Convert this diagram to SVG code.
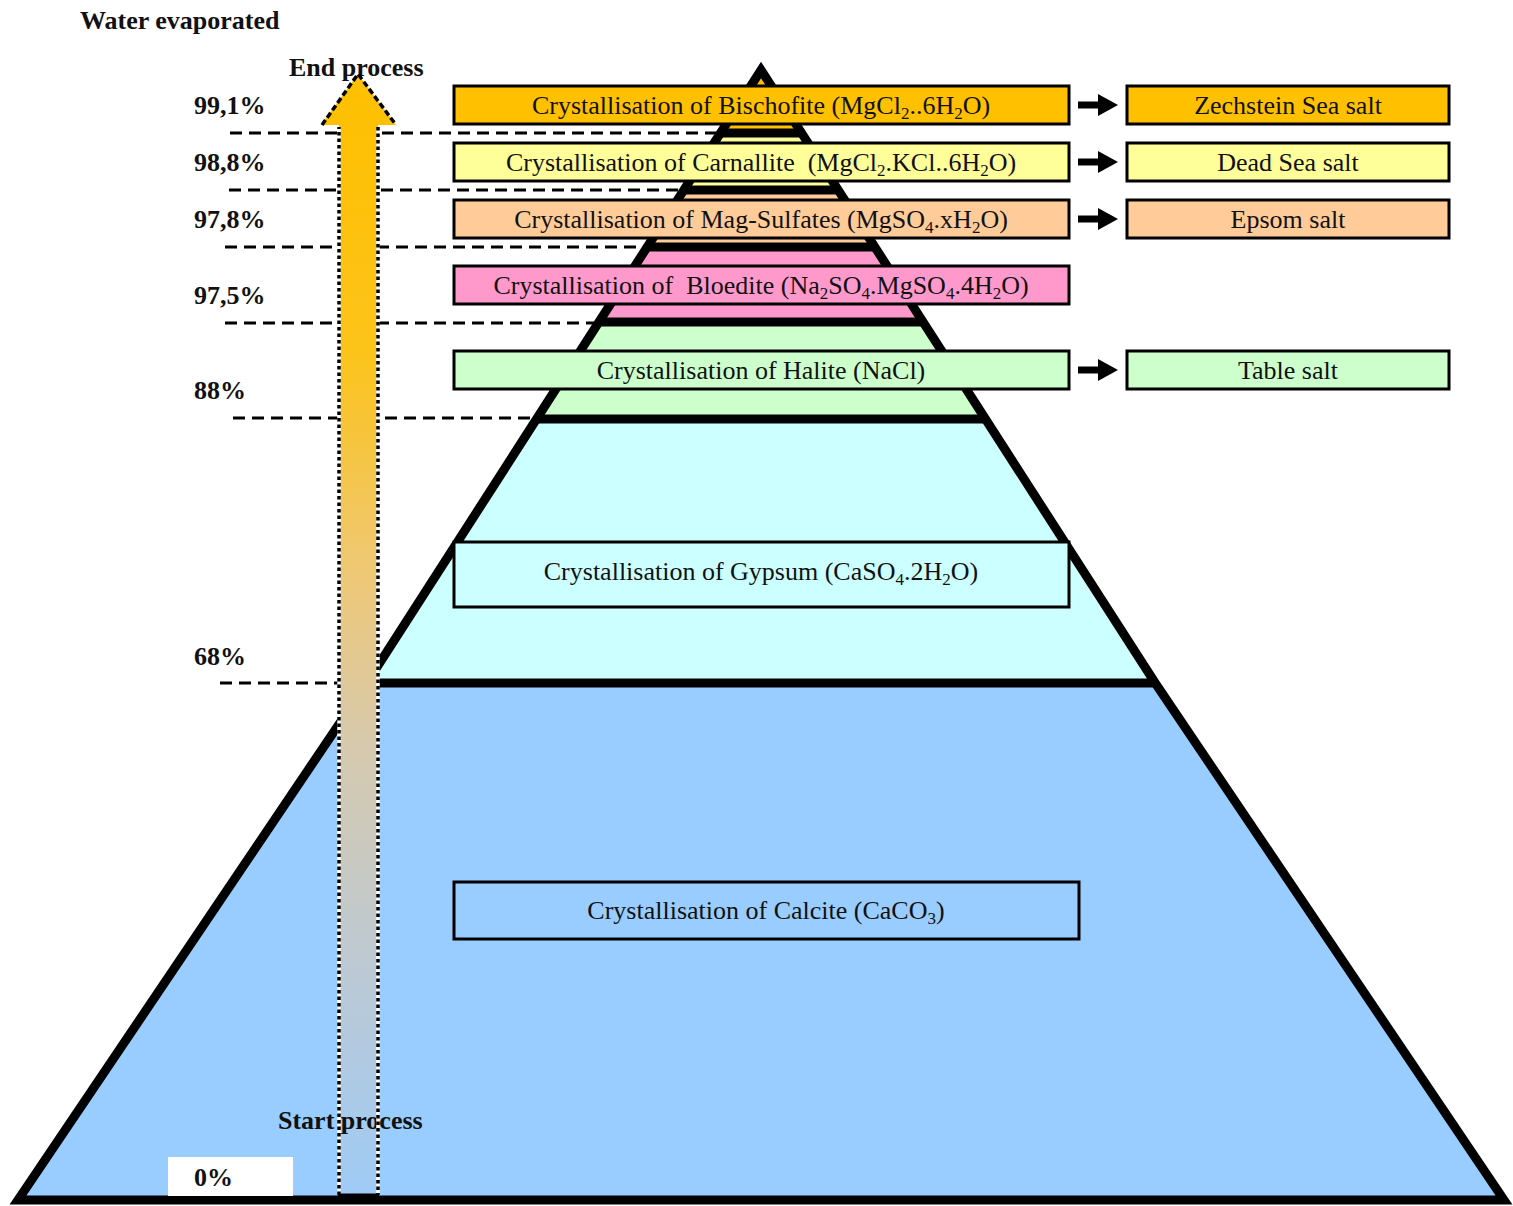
<svg xmlns="http://www.w3.org/2000/svg" width="1513" height="1206" viewBox="0 0 1513 1206">
<defs>
<style>
text{font-family:"Liberation Serif","Times New Roman",serif;font-size:26px;fill:#111;}
.b{font-weight:bold;}
.c{text-anchor:middle;}
.sub{font-size:17px;}
.box{stroke:#000;stroke-width:3;}
.dash{stroke:#000;stroke-width:3;stroke-dasharray:12 7;fill:none;}
.sep{stroke:#000;stroke-width:9;}
.conn{stroke:#000;stroke-width:7;fill:none;}
</style>
<linearGradient id="ag" x1="0" y1="0" x2="0" y2="1">
<stop offset="0" stop-color="#FFC000"/>
<stop offset="0.25" stop-color="#FCC31A"/>
<stop offset="0.45" stop-color="#EEC878"/>
<stop offset="0.6" stop-color="#D6C9AE"/>
<stop offset="0.8" stop-color="#BCC9D4"/>
<stop offset="1" stop-color="#9FCBF6"/>
</linearGradient>
<marker id="ah" markerUnits="userSpaceOnUse" markerWidth="22" markerHeight="24" refX="0" refY="11" orient="auto">
<path d="M0,0 L20,11 L0,22 z" fill="#000"/>
</marker>
</defs>
<rect width="1513" height="1206" fill="#fff"/>

<g id="levels">
<line class="dash" x1="230" y1="133" x2="722" y2="133"/>
<line class="dash" x1="229" y1="190" x2="684" y2="190"/>
<line class="dash" x1="225" y1="247" x2="648" y2="247"/>
<line class="dash" x1="225" y1="323" x2="600" y2="323"/>
<line class="dash" x1="233" y1="418" x2="537" y2="418"/>
<line class="dash" x1="220" y1="683" x2="366" y2="683"/>
</g>

<g id="pyramid">
<polygon points="761,70 801.5,133 720.5,133" fill="#FFC000"/>
<polygon points="720.5,133 801.5,133 838.2,190 683.8,190" fill="#FFFF99"/>
<polygon points="683.8,190 838.2,190 874.8,247 647.2,247" fill="#FFCC99"/>
<polygon points="647.2,247 874.8,247 923,322 599,322" fill="#FF99CC"/>
<polygon points="599,322 923,322 985.4,419 536.6,419" fill="#CCFFCC"/>
<polygon points="536.6,419 985.4,419 1155.2,683 366.8,683" fill="#CCFFFF"/>
<polygon points="366.8,683 1155.2,683 1504,1200 18,1200" fill="#99CCFF"/>
<line class="sep" x1="720.5" y1="133" x2="801.5" y2="133"/>
<line class="sep" x1="683.8" y1="190" x2="838.2" y2="190"/>
<line class="sep" x1="647.2" y1="247" x2="874.8" y2="247"/>
<line class="sep" x1="599" y1="322" x2="923" y2="322"/>
<line class="sep" x1="536.6" y1="419" x2="985.4" y2="419"/>
<line class="sep" x1="366.8" y1="683" x2="1155.2" y2="683"/>
<polygon points="761,70 1155.2,683 1504,1200 18,1200 366.8,683" fill="none" stroke="#000" stroke-width="9" stroke-linejoin="miter" stroke-miterlimit="10"/>
</g>

<g id="process-arrow-fill">
<polygon points="339,1195 339,125 321,125 358,74 396,125 378,125 378,1195" fill="url(#ag)"/>
</g>

<g id="labels">
<text class="b" x="80" y="29">Water evaporated</text>
<text class="b" x="194" y="114">99,1%</text>
<text class="b" x="194" y="171">98,8%</text>
<text class="b" x="194" y="228">97,8%</text>
<text class="b" x="194" y="304">97,5%</text>
<text class="b" x="194" y="399">88%</text>
<text class="b" x="194" y="665">68%</text>
<g id="zero">
<rect x="168" y="1157" width="125" height="39" fill="#fff"/>
<text class="b" x="194" y="1186">0%</text>
</g>
<text class="b" x="289" y="76">End process</text>
<text class="b" x="278" y="1129">Start process</text>
</g>

<g id="process-arrow-outline">
<path d="M339,1195 L339,127 M378,127 L378,1195" fill="none" stroke="#fff" stroke-width="3.5"/>
<path d="M339,1195 L339,127 M378,127 L378,1195" fill="none" stroke="#000" stroke-width="3.5" stroke-dasharray="3.5 3"/>
<path d="M322,125 L358,74 L396,125" fill="none" stroke="#000" stroke-width="3.5" stroke-dasharray="6 3"/>
<line x1="338" y1="1195" x2="379" y2="1195" stroke="#000" stroke-width="3"/>
</g>

<g id="bischofite">
<rect class="box" x="454" y="86" width="615" height="38" fill="#FFC000"/>
<text class="c" x="761" y="114">Crystallisation of Bischofite (MgCl<tspan class="sub" dy="5">2</tspan><tspan dy="-5">..6H</tspan><tspan class="sub" dy="5">2</tspan><tspan dy="-5">O)</tspan></text>
</g>
<g id="carnallite">
<rect class="box" x="454" y="143" width="615" height="38" fill="#FFFF99"/>
<text class="c" x="761" y="171" xml:space="preserve">Crystallisation of Carnallite  (MgCl<tspan class="sub" dy="5">2</tspan><tspan dy="-5">.KCl..6H</tspan><tspan class="sub" dy="5">2</tspan><tspan dy="-5">O)</tspan></text>
</g>
<g id="mag-sulfates">
<rect class="box" x="454" y="200" width="615" height="38" fill="#FFCC99"/>
<text class="c" x="761" y="228">Crystallisation of Mag-Sulfates (MgSO<tspan class="sub" dy="5">4</tspan><tspan dy="-5">.xH</tspan><tspan class="sub" dy="5">2</tspan><tspan dy="-5">O)</tspan></text>
</g>
<g id="bloedite">
<rect class="box" x="454" y="266" width="615" height="38" fill="#FF99CC"/>
<text class="c" x="761" y="294" xml:space="preserve">Crystallisation of  Bloedite (Na<tspan class="sub" dy="5">2</tspan><tspan dy="-5">SO</tspan><tspan class="sub" dy="5">4</tspan><tspan dy="-5">.MgSO</tspan><tspan class="sub" dy="5">4</tspan><tspan dy="-5">.4H</tspan><tspan class="sub" dy="5">2</tspan><tspan dy="-5">O)</tspan></text>
</g>
<g id="halite">
<rect class="box" x="454" y="351" width="615" height="38" fill="#CCFFCC"/>
<text class="c" x="761" y="379">Crystallisation of Halite (NaCl)</text>
</g>
<g id="gypsum">
<rect class="box" x="454" y="542" width="615" height="65" fill="#CCFFFF"/>
<text class="c" x="761" y="580">Crystallisation of Gypsum (CaSO<tspan class="sub" dy="5">4</tspan><tspan dy="-5">.2H</tspan><tspan class="sub" dy="5">2</tspan><tspan dy="-5">O)</tspan></text>
</g>
<g id="calcite">
<rect class="box" x="454" y="882" width="625" height="57" fill="#99CCFF"/>
<text class="c" x="766" y="919">Crystallisation of Calcite (CaCO<tspan class="sub" dy="5">3</tspan><tspan dy="-5">)</tspan></text>
</g>

<g id="zechstein">
<rect class="box" x="1127" y="86" width="322" height="38" fill="#FFC000"/>
<text class="c" x="1288" y="114">Zechstein Sea salt</text>
</g>
<g id="dead-sea">
<rect class="box" x="1127" y="143" width="322" height="38" fill="#FFFF99"/>
<text class="c" x="1288" y="171">Dead Sea salt</text>
</g>
<g id="epsom">
<rect class="box" x="1127" y="200" width="322" height="38" fill="#FFCC99"/>
<text class="c" x="1288" y="228">Epsom salt</text>
</g>
<g id="table-salt">
<rect class="box" x="1127" y="351" width="322" height="38" fill="#CCFFCC"/>
<text class="c" x="1288" y="379">Table salt</text>
</g>

<g id="connectors">
<line class="conn" x1="1078" y1="105" x2="1098" y2="105" marker-end="url(#ah)"/>
<line class="conn" x1="1078" y1="162" x2="1098" y2="162" marker-end="url(#ah)"/>
<line class="conn" x1="1078" y1="219" x2="1098" y2="219" marker-end="url(#ah)"/>
<line class="conn" x1="1078" y1="370" x2="1098" y2="370" marker-end="url(#ah)"/>
</g>
</svg>
